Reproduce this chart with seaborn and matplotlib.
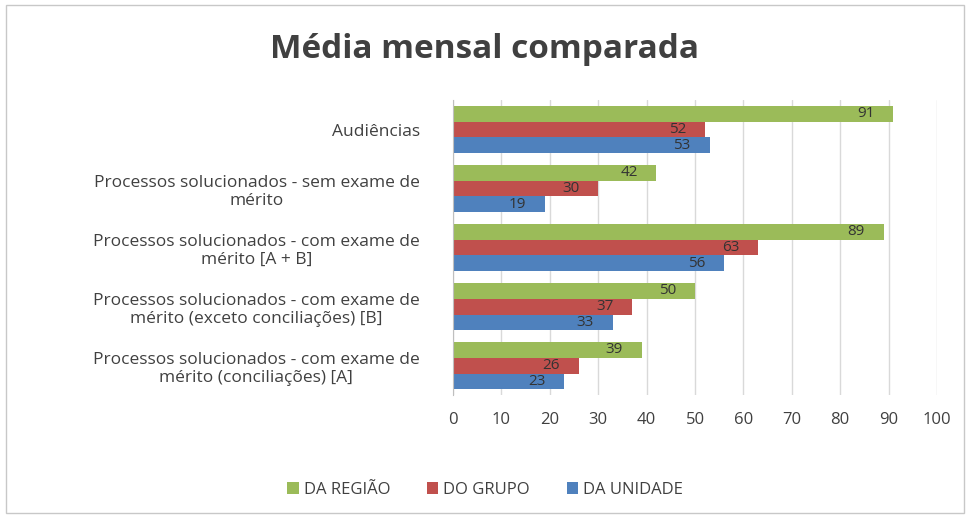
import pandas as pd
import matplotlib.pyplot as plt
import seaborn as sns

# Dados
categorias = [
    "Audiências",
    "Processos solucionados - sem exame de\nmérito",
    "Processos solucionados - com exame de\nmérito [A + B]",
    "Processos solucionados - com exame de\nmérito (exceto conciliações) [B]",
    "Processos solucionados - com exame de\nmérito (conciliações) [A]",
]
series = ["DA REGIÃO", "DO GRUPO", "DA UNIDADE"]
da_regiao = [91, 42, 89, 50, 39]
do_grupo = [52, 30, 63, 37, 26]
da_unidade = [53, 19, 56, 33, 23]
cores = ["#9BBB59", "#C0504D", "#4F81BD"]

data = pd.DataFrame({
    "categoria": categorias * 3,
    "serie": [s for s in series for _ in categorias],
    "valor": da_regiao + do_grupo + da_unidade,
})

sns.set_style("white")
plt.rcParams["font.family"] = ["Open Sans", "DejaVu Sans"]

fig = plt.figure(figsize=(9.7, 5.18), dpi=100)
ax = fig.add_axes([0.467, 0.237, 0.499, 0.570])

sns.barplot(data=data, y="categoria", x="valor", hue="serie", order=categorias,
            hue_order=series, palette=cores, saturation=1, orient="h", width=0.8,
            edgecolor="none", ax=ax)

for cont in ax.containers:
    ax.bar_label(cont, padding=-26, fontsize=11, color="#333333")

ax.set_xlim(0, 100)
ax.set_xticks(range(0, 101, 10))
ax.xaxis.grid(True, color="#d9d9d9", linewidth=1)
ax.set_axisbelow(True)
ax.set_xlabel("")
ax.set_ylabel("")
ax.tick_params(axis="x", labelsize=12, colors="#404040", length=0, pad=12)
ax.tick_params(axis="y", labelsize=12.5, colors="#404040", length=0, pad=24)
for lbl in ax.get_yticklabels():
    lbl.set_horizontalalignment("right")
    lbl.set_multialignment("center")
sns.despine(ax=ax, left=False, bottom=True, top=True, right=True)
ax.spines["left"].set_color("#bfbfbf")

handles, labels = ax.get_legend_handles_labels()
ax.legend_.remove()
fig.legend(handles, labels, loc="center", bbox_to_anchor=(0.5, 0.055), ncol=3,
           frameon=False, fontsize=12, handlelength=0.7, handleheight=0.7,
           columnspacing=2.2, handletextpad=0.3, labelcolor="#404040")

fig.text(0.5, 0.905, "Média mensal comparada", ha="center", va="center",
         fontsize=24, fontweight="bold", color="#404040")

fig.patches.append(plt.Rectangle((0.006, 0.01), 0.988, 0.98, transform=fig.transFigure,
                                 fill=False, edgecolor="#c8c8c8", linewidth=1))

fig.savefig("out.png", dpi=100)
